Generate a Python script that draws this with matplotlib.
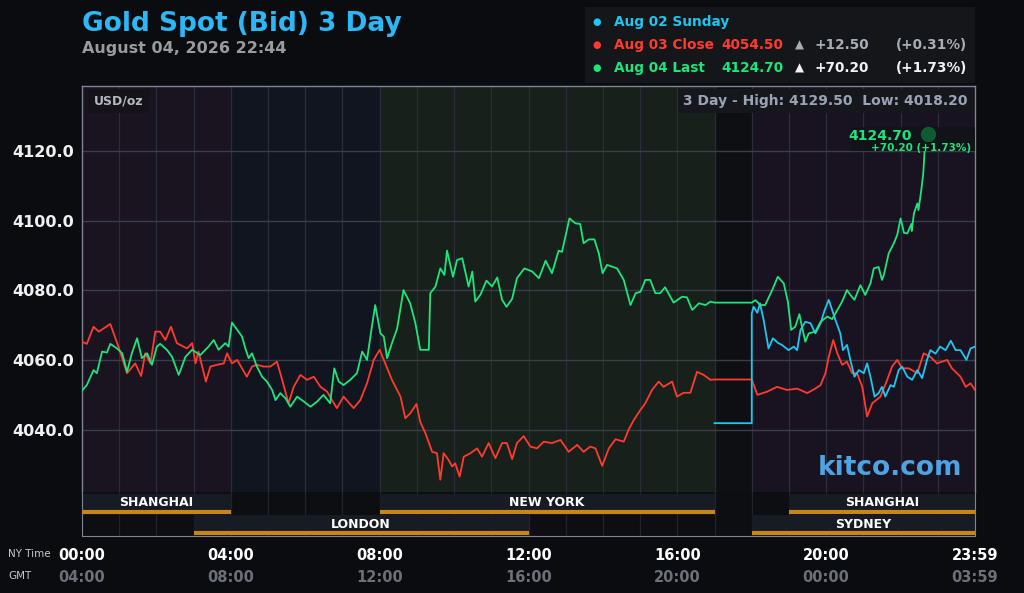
import matplotlib
matplotlib.use('Agg')
import matplotlib.pyplot as plt
from matplotlib.patches import Rectangle
from matplotlib.transforms import blended_transform_factory

# ---- data (NY time in hours, price USD/oz) ----
red_t = [0.00, 0.13, 0.31, 0.45, 0.58, 0.76, 0.98, 1.21, 1.43, 1.59, 1.70, 1.84, 1.97, 2.10,
         2.24, 2.39, 2.55, 2.82, 2.96, 3.05, 3.13, 3.33, 3.45, 3.63, 3.81, 3.90, 4.03, 4.17,
         4.30, 4.43, 4.57, 4.70, 4.88, 5.06, 5.24, 5.38, 5.55, 5.69, 5.87, 6.05, 6.23, 6.41,
         6.59, 6.72, 6.85, 7.03, 7.30, 7.48, 7.66, 7.84, 8.00, 8.15, 8.33, 8.56, 8.69, 8.82,
         8.99, 9.09, 9.23, 9.41, 9.54, 9.63, 9.72, 9.85, 9.95, 10.03, 10.15, 10.26, 10.44,
         10.62, 10.75, 10.93, 11.11, 11.29, 11.42, 11.56, 11.69, 11.87, 12.05, 12.23, 12.41,
         12.63, 12.86, 13.08, 13.31, 13.48, 13.66, 13.80, 13.98, 14.16, 14.34, 14.56, 14.69,
         14.83, 15.01, 15.14, 15.32, 15.50, 15.63, 15.86, 15.99, 16.17, 16.35, 16.53, 16.71,
         16.89, 17.00, 18.00, 18.15, 18.41, 18.68, 18.95, 19.22, 19.49, 19.71, 19.85, 19.98,
         20.07, 20.19, 20.30, 20.43, 20.56, 20.70, 20.83, 20.97, 21.10, 21.24, 21.46, 21.64,
         21.77, 21.91, 22.04, 22.22, 22.45, 22.62, 22.80, 22.98, 23.25, 23.38, 23.61, 23.75,
         23.88, 24.00]
red_v = [4065.3, 4064.7, 4069.6, 4068.2, 4069.1, 4070.4, 4063.9, 4056.3, 4059.1, 4055.5, 4062.0,
         4059.1, 4068.2, 4068.2, 4065.8, 4069.6, 4064.9, 4063.4, 4064.9, 4059.1, 4062.5, 4053.9,
         4058.2, 4058.7, 4059.1, 4062.0, 4059.1, 4060.1, 4057.7, 4055.3, 4058.2, 4058.7, 4058.2,
         4058.2, 4059.6, 4054.4, 4047.7, 4052.4, 4055.8, 4054.4, 4055.3, 4052.4, 4051.0, 4048.6,
         4046.3, 4049.6, 4046.3, 4048.6, 4053.4, 4060.1, 4063.0, 4059.1, 4054.4, 4049.6, 4043.4,
         4044.8, 4047.5, 4042.4, 4039.1, 4033.8, 4033.4, 4025.8, 4033.4, 4031.5, 4029.6, 4030.5,
         4026.7, 4032.4, 4033.4, 4034.8, 4032.4, 4036.3, 4032.0, 4036.3, 4036.3, 4031.7, 4036.3,
         4038.3, 4035.3, 4034.8, 4036.7, 4036.3, 4037.2, 4033.8, 4035.8, 4033.8, 4035.3, 4034.8,
         4029.8, 4034.8, 4037.4, 4036.7, 4040.1, 4042.9, 4045.8, 4047.7, 4051.5, 4053.9, 4052.4,
         4053.9, 4049.6, 4050.7, 4050.7, 4056.7, 4055.8, 4054.4, 4054.5, 4054.5, 4050.1, 4051.0,
         4052.4, 4051.5, 4051.9, 4050.6, 4051.9, 4052.9, 4056.3, 4061.0, 4065.8, 4062.0, 4058.7,
         4059.6, 4056.3, 4056.3, 4052.4, 4043.9, 4047.7, 4049.6, 4054.4, 4058.2, 4060.1, 4057.7,
         4057.7, 4056.3, 4062.0, 4061.0, 4059.1, 4060.1, 4057.7, 4055.3, 4052.4, 4053.4, 4051.5]

green_t = [0.00, 0.13, 0.31, 0.40, 0.54, 0.67, 0.76, 0.94, 1.08, 1.21, 1.34, 1.48, 1.61, 1.75,
           1.88, 2.01, 2.10, 2.28, 2.42, 2.60, 2.78, 2.96, 3.18, 3.40, 3.54, 3.67, 3.85, 3.94,
           4.03, 4.17, 4.30, 4.39, 4.48, 4.57, 4.70, 4.84, 4.97, 5.11, 5.20, 5.33, 5.47, 5.60,
           5.78, 5.96, 6.14, 6.32, 6.49, 6.67, 6.78, 6.90, 7.03, 7.21, 7.39, 7.53, 7.66, 7.79,
           7.88, 8.02, 8.11, 8.20, 8.33, 8.47, 8.64, 8.82, 8.96, 9.09, 9.32, 9.36, 9.50, 9.63,
           9.74, 9.81, 9.97, 10.08, 10.22, 10.39, 10.49, 10.57, 10.71, 10.87, 11.02, 11.16, 11.29,
           11.41, 11.56, 11.69, 11.89, 12.10, 12.28, 12.46, 12.63, 12.81, 12.90, 13.10, 13.26,
           13.39, 13.48, 13.62, 13.77, 13.89, 13.99, 14.11, 14.38, 14.56, 14.74, 14.88, 15.01,
           15.14, 15.27, 15.41, 15.54, 15.67, 15.90, 16.13, 16.26, 16.40, 16.58, 16.76, 16.89,
           17.00, 18.00, 18.10, 18.23, 18.36, 18.55, 18.70, 18.86, 18.97, 19.06, 19.17, 19.28,
           19.35, 19.44, 19.53, 19.71, 19.85, 20.03, 20.16, 20.30, 20.43, 20.56, 20.65, 20.76,
           20.92, 21.05, 21.19, 21.28, 21.41, 21.50, 21.55, 21.68, 21.82, 21.91, 22.00, 22.09,
           22.18, 22.29, 22.30, 22.36, 22.45, 22.48, 22.55, 22.61, 22.64, 22.68, 22.73]
green_v = [4051.3, 4052.9, 4057.2, 4056.3, 4062.5, 4062.2, 4064.7, 4063.4, 4062.0, 4056.7, 4062.0,
           4066.3, 4060.6, 4062.0, 4058.7, 4063.9, 4064.7, 4063.0, 4061.0, 4055.8, 4061.0, 4063.0,
           4061.5, 4063.9, 4065.8, 4063.0, 4064.9, 4063.9, 4070.8, 4068.7, 4066.8, 4063.4, 4060.6,
           4062.0, 4058.2, 4055.3, 4053.9, 4051.5, 4048.6, 4050.6, 4049.1, 4046.7, 4049.6, 4048.2,
           4046.7, 4048.2, 4050.1, 4047.7, 4057.7, 4053.9, 4052.9, 4054.4, 4056.3, 4062.5, 4060.1,
           4069.6, 4075.8, 4067.7, 4066.8, 4060.6, 4064.9, 4069.1, 4080.1, 4076.3, 4070.6, 4063.0,
           4063.0, 4079.2, 4081.1, 4086.3, 4084.4, 4091.4, 4083.9, 4088.7, 4089.2, 4081.1, 4085.4,
           4076.8, 4078.8, 4082.8, 4081.1, 4083.7, 4077.3, 4075.3, 4077.6, 4083.5, 4086.3, 4085.4,
           4083.5, 4088.5, 4084.9, 4091.4, 4091.0, 4100.6, 4099.2, 4099.0, 4093.5, 4094.6, 4094.6,
           4090.6, 4084.9, 4087.3, 4086.3, 4083.0, 4075.8, 4079.2, 4079.6, 4083.0, 4083.0, 4079.2,
           4079.2, 4080.9, 4076.5, 4078.2, 4078.0, 4074.4, 4076.3, 4075.8, 4076.8, 4076.5, 4076.5,
           4077.2, 4075.8, 4075.8, 4080.1, 4083.9, 4082.0, 4076.8, 4068.7, 4069.6, 4073.2, 4069.6,
           4065.3, 4067.7, 4068.2, 4071.0, 4072.5, 4071.8, 4074.4, 4076.8, 4080.1, 4078.7, 4077.3,
           4081.5, 4078.7, 4082.0, 4086.3, 4086.7, 4083.0, 4084.4, 4090.6, 4093.5, 4095.9, 4100.6,
           4096.5, 4096.3, 4099.0, 4097.0, 4102.1, 4104.9, 4103.0, 4108.2, 4113.5, 4119.0, 4124.7,
           4124.7]

cyan_t = [17.00, 18.00, 18.00, 18.05, 18.15, 18.22, 18.32, 18.45, 18.57, 18.70, 18.81, 18.99,
          19.13, 19.22, 19.31, 19.44, 19.58, 19.71, 19.85, 19.96, 20.07, 20.16, 20.25, 20.38,
          20.45, 20.56, 20.65, 20.76, 20.88, 21.01, 21.10, 21.19, 21.30, 21.41, 21.50, 21.59,
          21.73, 21.82, 21.95, 22.04, 22.18, 22.31, 22.45, 22.58, 22.71, 22.80, 22.94, 23.06,
          23.21, 23.35, 23.48, 23.61, 23.77, 23.88, 24.00]
cyan_v = [4042.0, 4042.0, 4073.4, 4075.3, 4073.6, 4076.3, 4071.5, 4063.4, 4066.3, 4065.0, 4064.4,
          4062.9, 4063.9, 4062.9, 4068.7, 4071.0, 4070.6, 4067.7, 4070.6, 4074.4, 4077.3, 4074.4,
          4071.5, 4067.7, 4062.9, 4064.4, 4060.1, 4055.3, 4057.2, 4056.3, 4059.1, 4055.3, 4049.6,
          4050.6, 4052.4, 4049.6, 4052.9, 4052.4, 4057.2, 4058.2, 4055.3, 4054.4, 4057.2, 4054.9,
          4060.1, 4062.9, 4061.9, 4063.9, 4062.9, 4065.6, 4062.9, 4062.9, 4060.1, 4063.4, 4063.9]

y_ticks = [4040, 4060, 4080, 4100, 4120]
tick_hours = [0, 4, 8, 12, 16, 20, 24]
ny_labels = ['00:00', '04:00', '08:00', '12:00', '16:00', '20:00', '23:59']
gmt_labels = ['04:00', '08:00', '12:00', '16:00', '20:00', '00:00', '03:59']

# background periods
bg_start = [0, 4, 8, 17, 18]
bg_end = [4, 8, 17, 18, 24]
bg_colors = ['#1a1320', '#11151f', '#17201a', '#0d0f13', '#191321']

# trading sessions
session_names = ['SHANGHAI', 'LONDON', 'NEW YORK', 'SHANGHAI', 'SYDNEY']
session_start = [0, 3, 8, 19, 18]
session_end = [4, 12, 17, 24, 24]
session_row = [0, 1, 0, 0, 1]

last_t = 22.73
last_v = 4124.70

# colours
BG = '#0b0c10'
RED = '#ff3b2f'
GREEN = '#1ee47c'
CYAN = '#1ec6f0'

W, H = 1024, 593
fig = plt.figure(figsize=(W / 100, H / 100), dpi=100, facecolor=BG)

def fx(px):
    return px / W

def fy(py):
    return 1 - py / H

ax = fig.add_axes([fx(82), fy(492), fx(975 - 82), (492 - 86) / H])
axb = fig.add_axes([fx(82), fy(536), fx(975 - 82), (536 - 492) / H])

# ---- price panel ----
ax.set_facecolor(BG)
for s, e, c in zip(bg_start, bg_end, bg_colors):
    ax.axvspan(s, e, color=c, lw=0, zorder=0)
for h in range(1, 24):
    ax.axvline(h, color='#2a2e38', lw=0.9, zorder=1)
for v in y_ticks:
    ax.axhline(v, color='#3a3e4a', lw=1.0, zorder=1)

ax.plot(red_t, red_v, color=RED, lw=1.3, zorder=3)
ax.plot(green_t, green_v, color=GREEN, lw=1.3, zorder=4)
ax.plot(cyan_t, cyan_v, color=CYAN, lw=1.3, zorder=3)

ax.set_xlim(0, 24)
ax.set_ylim(4022.3, 4138.5)
ax.set_xticks([])
ax.set_yticks(y_ticks)
ax.set_yticklabels(['%.1f' % v for v in y_ticks])
ax.tick_params(axis='y', length=0, pad=6, labelsize=11.5, labelcolor='#f0f0f0')
for lab in ax.get_yticklabels():
    lab.set_fontweight('bold')
for side in ['left', 'top', 'right']:
    ax.spines[side].set_color('#7d8596')
    ax.spines[side].set_linewidth(1.0)
ax.spines['bottom'].set_visible(False)

# last price box, marker and labels
ax.add_patch(Rectangle((fx(851), fy(151)), fx(975 - 851), (151 - 127) / H,
                       transform=fig.transFigure, fc='#111317', ec='none',
                       alpha=0.9, zorder=5))
ax.plot([last_t], [last_v], 'o', ms=10, color='#0d5f35', alpha=0.95, zorder=6)
ax.annotate('%.2f' % last_v, xy=(last_t, last_v), xytext=(-16, -2), textcoords='offset pixels',
            ha='right', va='center', color=GREEN, fontsize=10, fontweight='bold', zorder=7)
ax.annotate('+70.20 (+1.73%)', xy=(last_t, last_v), xytext=(43, -14), textcoords='offset pixels',
            ha='right', va='center', color=GREEN, fontsize=7.5, fontweight='bold', zorder=7)

ax.text(0.013, 0.963, 'USD/oz', transform=ax.transAxes, ha='left', va='center',
        color='#b4b8c0', fontsize=9, fontweight='bold',
        bbox=dict(boxstyle='square,pad=0.45', fc='#15121a', ec='none'))
ax.text(0.992, 0.963, '3 Day - High: 4129.50  Low: 4018.20', transform=ax.transAxes,
        ha='right', va='center', color='#9aa3b5', fontsize=10, fontweight='bold',
        bbox=dict(boxstyle='square,pad=0.35', fc='#15171c', ec='none'))
fig.text(fx(962), fy(468), 'kitco.com', ha='right', va='center', color='#4ea3e2',
         fontsize=19, fontweight='bold')

# ---- session panel ----
axb.set_facecolor('#0c0e12')
for h in range(1, 24):
    axb.axvline(h, color='#20242c', lw=0.9, zorder=1)
row_top = [2, 23]
for name, s, e, r in zip(session_names, session_start, session_end, session_row):
    top = row_top[r]
    axb.add_patch(Rectangle((s, top), e - s, 19, fc='#161b24', ec='none', zorder=2))
    axb.hlines(top + 17.5, s, e, color='#c8861a', lw=3, zorder=3)
    axb.text((s + e) / 2, top + 9, name, ha='center', va='center', color='white',
             fontsize=9, fontweight='bold', zorder=4)
axb.set_xlim(0, 24)
axb.set_ylim(44, 0)
axb.set_xticks([])
axb.set_yticks([])
for side in ['left', 'bottom', 'right']:
    axb.spines[side].set_color('#7d8596')
axb.spines['top'].set_visible(False)

# time labels
tr = blended_transform_factory(axb.transData, fig.transFigure)
for h, ny, gmt in zip(tick_hours, ny_labels, gmt_labels):
    fig.text(h, fy(556), ny, transform=tr, ha='center', va='center', color='white',
             fontsize=10.5, fontweight='bold')
    fig.text(h, fy(577), gmt, transform=tr, ha='center', va='center', color='#6c7078',
             fontsize=10.5, fontweight='bold')
fig.text(fx(8), fy(554), 'NY Time', ha='left', va='center', color='#c8c8c8', fontsize=7.5)
fig.text(fx(8), fy(576), 'GMT', ha='left', va='center', color='#c8c8c8', fontsize=7.5)

# ---- header ----
fig.text(fx(82), fy(24), 'Gold Spot (Bid) 3 Day', ha='left', va='center', color='#2db7f5',
         fontsize=19, fontweight='bold')
fig.text(fx(82), fy(48), 'August 04, 2026 22:44', ha='left', va='center', color='#9b9b9b',
         fontsize=11.5, fontweight='bold')

# legend box
fig.patches.append(Rectangle((fx(585), fy(83)), fx(975 - 585), (83 - 7) / H,
                             transform=fig.transFigure, fc='#14161a', ec='none', zorder=0))
leg_y = [22, 45, 68]
leg_colors = [CYAN, RED, GREEN]
leg_names = ['Aug 02 Sunday', 'Aug 03 Close', 'Aug 04 Last']
leg_price = ['', '4054.50', '4124.70']
leg_change = ['', '+12.50', '+70.20']
leg_pct = ['', '(+0.31%)', '(+1.73%)']
leg_info_color = ['', '#a9adb5', '#f2f2f2']
for i in range(3):
    y = fy(leg_y[i])
    fig.text(fx(597), y, '\u25cf', ha='center', va='center', color=leg_colors[i], fontsize=7)
    fig.text(fx(614), y, leg_names[i], ha='left', va='center', color=leg_colors[i],
             fontsize=9.8, fontweight='bold')
    if leg_price[i]:
        fig.text(fx(783), y, leg_price[i], ha='right', va='center', color=leg_colors[i],
                 fontsize=9.8, fontweight='bold')
        fig.text(fx(799), y, '\u25b2', ha='center', va='center', color=leg_info_color[i],
                 fontsize=8.5)
        fig.text(fx(815), y, leg_change[i], ha='left', va='center', color=leg_info_color[i],
                 fontsize=9.8, fontweight='bold')
        fig.text(fx(967), y, leg_pct[i], ha='right', va='center', color=leg_info_color[i],
                 fontsize=9.8, fontweight='bold')

fig.savefig('out.png', dpi=100, facecolor=BG)
